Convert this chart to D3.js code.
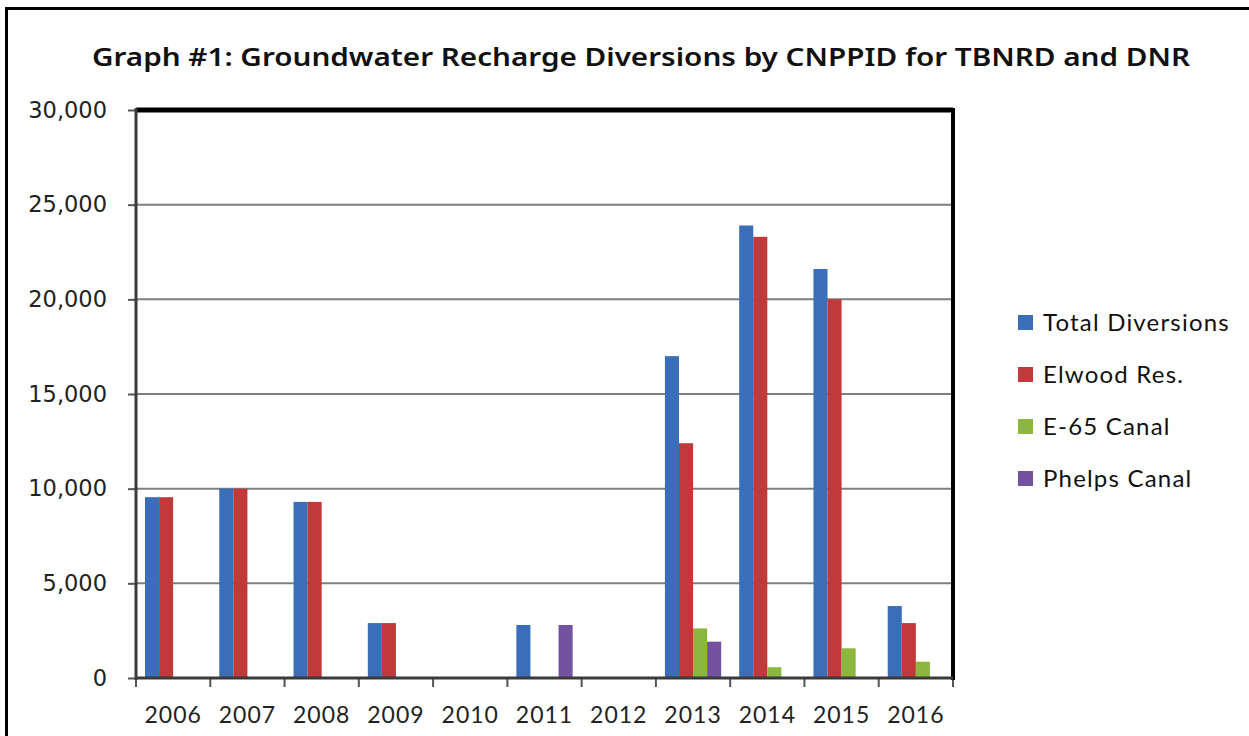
<!DOCTYPE html>
<html><head><meta charset="utf-8">
<script src="https://cdn.jsdelivr.net/npm/d3@7/dist/d3.min.js"></script>
<style>
html,body{margin:0;padding:0;background:#fff;overflow:hidden}
svg{display:block}
</style></head>
<body>
<svg id="chart" width="1249" height="736"></svg>
<script>
const titleText = "Graph #1: Groundwater Recharge Diversions by CNPPID for TBNRD and DNR";
const years = ["2006","2007","2008","2009","2010","2011","2012","2013","2014","2015","2016"];
const seriesNames = ["Total Diversions","Elwood Res.","E-65 Canal","Phelps Canal"];
const seriesColors = ["#3a6eb8","#c0393b","#8cb73f","#7252a1"];
const totalDiversions = [9550,10000,9300,2900,0,2800,0,17000,23900,21600,3800];
const elwoodRes      = [9550,10000,9300,2900,0,0,0,12400,23300,20000,2900];
const e65Canal       = [0,0,0,0,0,0,0,2620,570,1570,860];
const phelpsCanal    = [0,0,0,0,0,2800,0,1920,0,0,0];
const yTicks = [0,5000,10000,15000,20000,25000,30000];

const seriesValues = [totalDiversions, elwoodRes, e65Canal, phelpsCanal];
const svg = d3.select("#chart");

// outer frame
svg.append("rect").attr("x",6.5).attr("y",8.5).attr("width",1300).attr("height",800)
  .attr("fill","none").attr("stroke","#000").attr("stroke-width",3);

// title
const t = svg.append("text").attr("x",641).attr("y",66).attr("text-anchor","middle")
  .attr("font-family","Noto Sans, DejaVu Sans, sans-serif").attr("font-weight","600")
  .attr("font-size",26).attr("fill","#111").text(titleText);
t.attr("textLength",1098).attr("lengthAdjust","spacingAndGlyphs");

const pL = 136, pR = 953, pT = 110, pB = 678;
const x = d3.scaleBand().domain(years).range([pL,pR]).padding(0);
const y = d3.scaleLinear().domain([0,30000]).range([pB,pT]);
const xs = d3.scaleBand().domain(seriesNames).range([9, x.bandwidth()-9]).padding(0);

// gridlines
svg.append("g").selectAll("line").data(yTicks.filter(v=>v>0 && v<30000)).join("line")
  .attr("x1",pL).attr("x2",pR).attr("y1",d=>y(d)).attr("y2",d=>y(d))
  .attr("stroke","#7f7f7f").attr("stroke-width",2);

// bars
const data = [];
years.forEach((yr,i)=>seriesNames.forEach((s,j)=>{
  if (seriesValues[j][i] > 0) data.push({yr, s, v: seriesValues[j][i], c: seriesColors[j]});
}));
svg.append("g").selectAll("rect").data(data).join("rect")
  .attr("x",d=>x(d.yr)+xs(d.s)).attr("width",xs.bandwidth())
  .attr("y",d=>y(d.v)).attr("height",d=>y(0)-y(d.v)).attr("fill",d=>d.c);

// y axis
const yAxis = d3.axisLeft(y).tickValues(yTicks).tickSize(8).tickPadding(21)
  .tickFormat(d3.format(","));
const ya = svg.append("g").attr("transform",`translate(${pL},0)`).call(yAxis);
ya.select(".domain").remove();
ya.selectAll(".tick line").attr("stroke","#555").attr("stroke-width",2);
ya.selectAll("text").attr("font-family","DejaVu Sans, Verdana, sans-serif").attr("font-size",22.5).attr("fill","#222");

// x axis
const xAxis = d3.axisBottom(x).tickSize(0).tickPadding(29);
const xa = svg.append("g").attr("transform",`translate(0,${pB})`).call(xAxis);
xa.select(".domain").remove();
xa.selectAll("text").attr("font-family","Lato, sans-serif").attr("font-size",23).attr("fill","#222")
  .attr("letter-spacing","1px");
// x ticks at band boundaries
const bounds = years.map(d=>x(d)).concat([pR]);
svg.append("g").selectAll("line").data(bounds).join("line")
  .attr("x1",d=>d).attr("x2",d=>d).attr("y1",pB).attr("y2",pB+9)
  .attr("stroke","#555").attr("stroke-width",2);

// plot frame
svg.append("line").attr("x1",pL).attr("x2",pR).attr("y1",pT).attr("y2",pT).attr("stroke","#000").attr("stroke-width",5);
svg.append("line").attr("x1",pR).attr("x2",pR).attr("y1",pT-2).attr("y2",pB+2).attr("stroke","#000").attr("stroke-width",4);
svg.append("line").attr("x1",pL).attr("x2",pL).attr("y1",pT-2).attr("y2",pB+2).attr("stroke","#3a3a3a").attr("stroke-width",3);
svg.append("line").attr("x1",pL).attr("x2",pR).attr("y1",pB).attr("y2",pB).attr("stroke","#3a3a3a").attr("stroke-width",3);

// legend
const lg = svg.append("g").selectAll("g").data(seriesNames).join("g")
  .attr("transform",(d,i)=>`translate(1018,${322 + i*52})`);
lg.append("rect").attr("x",0).attr("y",-7).attr("width",15).attr("height",15)
  .attr("fill",(d,i)=>seriesColors[i]);
lg.append("text").attr("x",25).attr("y",9).attr("font-family","Lato, sans-serif")
  .attr("font-size",24).attr("letter-spacing","1.2px").attr("fill","#111").text(d=>d);
</script>
</body></html>
